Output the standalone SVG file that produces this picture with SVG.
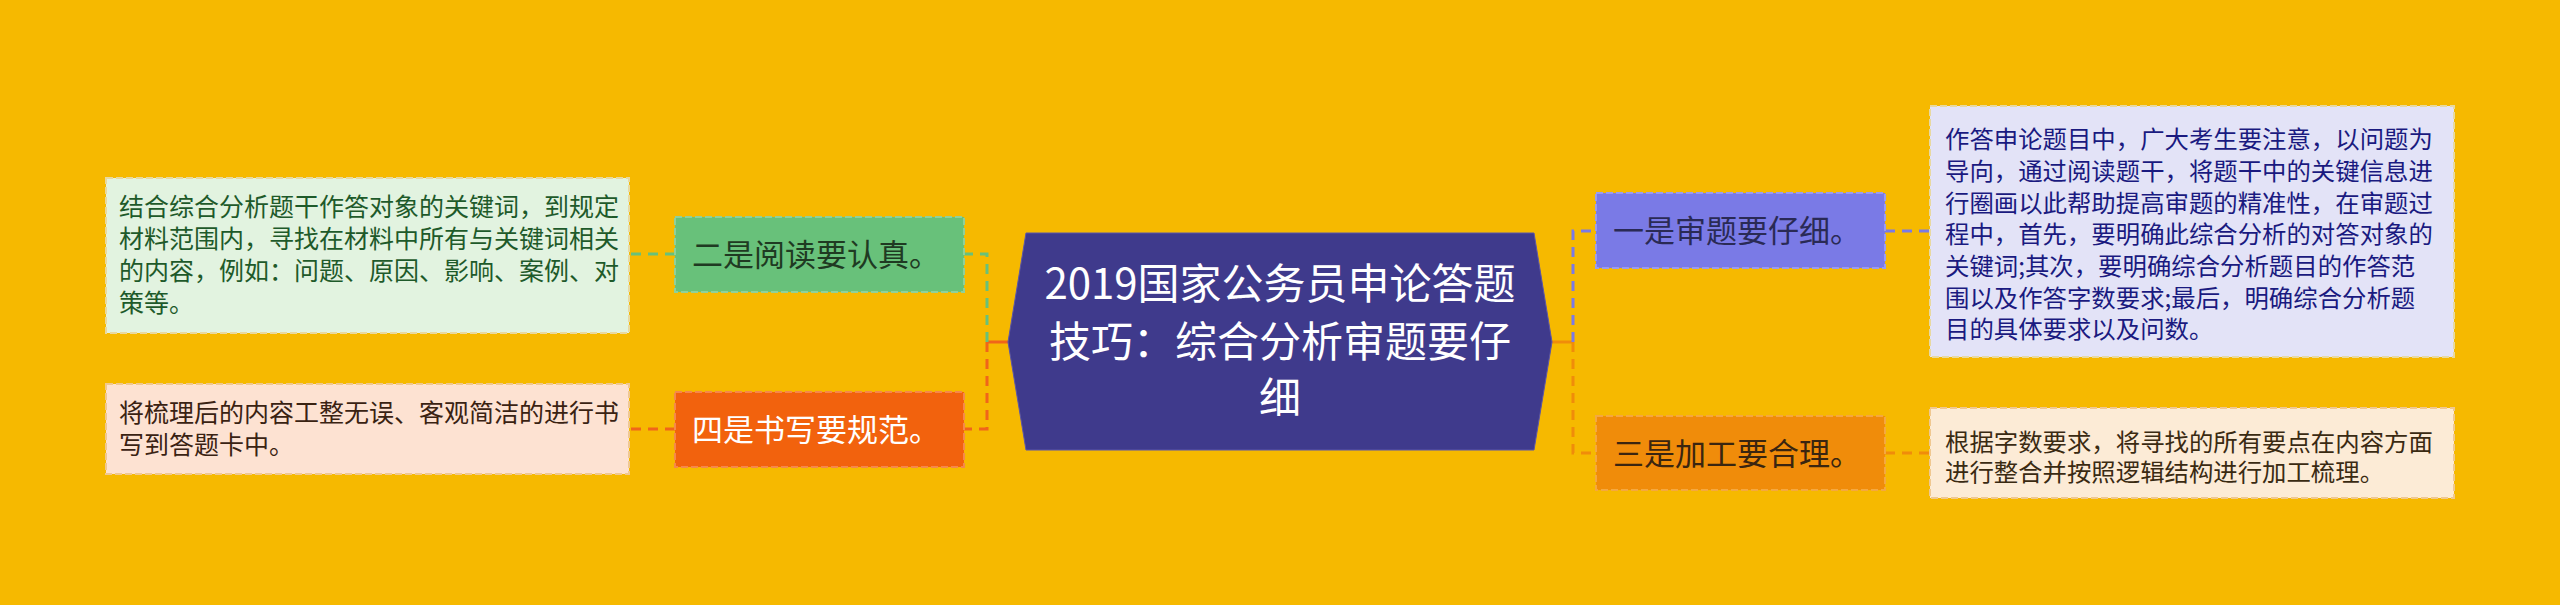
<svg xmlns="http://www.w3.org/2000/svg" width="2560" height="605" viewBox="0 0 2560 605">
<style>
text{font-family:"Microsoft YaHei","Noto Sans CJK SC","Noto Sans",sans-serif;}
.leaf{font-size:25px;}
.leafR{font-size:24.4px;}
.lbl{font-size:31px;}
.title{font-size:42px;fill:#ffffff;}
.box{stroke-width:2;stroke-dasharray:7 3;}
.con{fill:none;stroke-width:3;stroke-dasharray:10 7;}
</style>
<rect x="0" y="0" width="2560" height="605" fill="#F6B900"/>
<g id="connectors">
  <line x1="1008" y1="342" x2="987" y2="342" stroke="#F0651A" stroke-width="3"/>
  <polyline class="con" points="987,342 987,254 964,254" stroke="#68C17A"/>
  <polyline class="con" points="987,342 987,429 964,429" stroke="#F0651A"/>
  <line class="con" x1="675" y1="254" x2="629" y2="254" stroke="#68C17A"/>
  <line class="con" x1="675" y1="429" x2="629" y2="429" stroke="#F0651A"/>
  <line x1="1552" y1="342" x2="1573" y2="342" stroke="#F08C0A" stroke-width="3"/>
  <polyline class="con" points="1573,342 1573,231 1596,231" stroke="#7A7AE6"/>
  <polyline class="con" points="1573,342 1573,453 1596,453" stroke="#F08C0A"/>
  <line class="con" x1="1885" y1="231" x2="1930" y2="231" stroke="#7A7AE6"/>
  <line class="con" x1="1885" y1="453" x2="1930" y2="453" stroke="#F08C0A"/>
</g>
<g id="center">
  <polygon points="1026,233 1534,233 1552,342 1534,450 1026,450 1008,342" fill="#3F3A8C" stroke="#5A55AA" stroke-width="1"/>
  <text class="title" x="1280" y="299" text-anchor="middle">2019国家公务员申论答题</text>
  <text class="title" x="1280" y="357" text-anchor="middle">技巧：综合分析审题要仔</text>
  <text class="title" x="1280" y="413" text-anchor="middle">细</text>
</g>
<g id="node-read">
  <rect class="box" x="675" y="217" width="289" height="75" fill="#68C17A" stroke="#8FD09A"/>
  <text class="lbl" x="692" y="266" fill="#1F3A22">二是阅读要认真。</text>
</g>
<g id="leaf-read">
  <rect class="box" x="106" y="178" width="523" height="155" fill="#E2F3E0" stroke="#E8D9A0"/>
  <text class="leaf" fill="#1E5A2A"><tspan x="119" y="216">结合综合分析题干作答对象的关键词，到规定</tspan><tspan x="119" y="248">材料范围内，寻找在材料中所有与关键词相关</tspan><tspan x="119" y="280">的内容，例如：问题、原因、影响、案例、对</tspan><tspan x="119" y="312">策等。</tspan></text>
</g>
<g id="node-write">
  <rect class="box" x="675" y="392" width="289" height="75" fill="#F2620D" stroke="#F5884A"/>
  <text class="lbl" x="692" y="441" fill="#ffffff">四是书写要规范。</text>
</g>
<g id="leaf-write">
  <rect class="box" x="106" y="384" width="523" height="90" fill="#FDE2D2" stroke="#F0C890"/>
  <text class="leaf" fill="#3A2212"><tspan x="119" y="422">将梳理后的内容工整无误、客观简洁的进行书</tspan><tspan x="119" y="454">写到答题卡中。</tspan></text>
</g>
<g id="node-review">
  <rect class="box" x="1596" y="193" width="289" height="75" fill="#7A7AE6" stroke="#9C9CEC"/>
  <text class="lbl" x="1613" y="242" fill="#2A2A55">一是审题要仔细。</text>
</g>
<g id="leaf-review">
  <rect class="box" x="1930" y="106" width="524" height="251" fill="#E3E3F7" stroke="#E8D9A0"/>
  <text class="leafR" fill="#1A1A80"><tspan x="1945" y="148">作答申论题目中，广大考生要注意，以问题为</tspan><tspan x="1945" y="180">导向，通过阅读题干，将题干中的关键信息进</tspan><tspan x="1945" y="212">行圈画以此帮助提高审题的精准性，在审题过</tspan><tspan x="1945" y="243">程中，首先，要明确此综合分析的对答对象的</tspan><tspan x="1945" y="275">关键词;其次，要明确综合分析题目的作答范</tspan><tspan x="1945" y="307">围以及作答字数要求;最后，明确综合分析题</tspan><tspan x="1945" y="338">目的具体要求以及问数。</tspan></text>
</g>
<g id="node-process">
  <rect class="box" x="1596" y="416" width="289" height="74" fill="#F08C0A" stroke="#F4A840"/>
  <text class="lbl" x="1613" y="465" fill="#3A2510">三是加工要合理。</text>
</g>
<g id="leaf-process">
  <rect class="box" x="1930" y="408" width="524" height="90" fill="#FCEBD6" stroke="#F0C890"/>
  <text class="leafR" fill="#3A2A12"><tspan x="1945" y="451">根据字数要求，将寻找的所有要点在内容方面</tspan><tspan x="1945" y="481">进行整合并按照逻辑结构进行加工梳理。</tspan></text>
</g>
</svg>
